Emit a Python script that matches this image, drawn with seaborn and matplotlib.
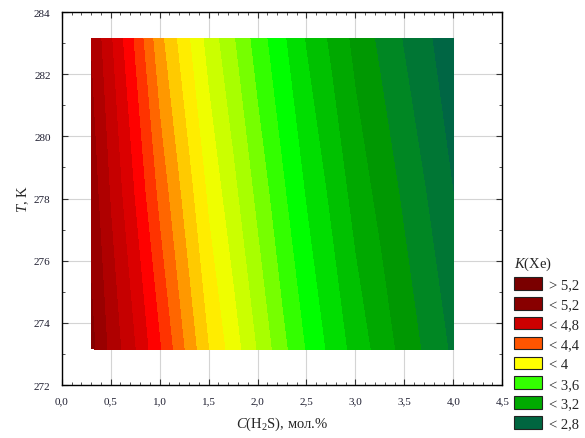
import numpy as np
import matplotlib
matplotlib.use("Agg")
import matplotlib.pyplot as plt
import seaborn as sns
from matplotlib.colors import LinearSegmentedColormap, Normalize
from matplotlib.patches import Patch
from matplotlib.ticker import MultipleLocator, FuncFormatter

# ---- data ----
c_h2s = [0.3, 0.5, 0.75, 1.0, 1.25, 1.5, 1.75, 2.0, 2.25, 2.5, 2.75, 3.0, 3.25, 3.5, 3.75, 4.0]
temps = [273.15, 278.15, 283.15]
k_273 = [5.03, 4.87, 4.70, 4.51, 4.30, 4.10, 3.95, 3.79, 3.63, 3.49, 3.37, 3.26, 3.16, 3.06, 2.97, 2.88]
k_278 = [4.96, 4.79, 4.59, 4.37, 4.17, 3.98, 3.83, 3.67, 3.52, 3.39, 3.28, 3.16, 3.07, 2.98, 2.89, 2.80]
k_283 = [4.89, 4.71, 4.48, 4.23, 4.04, 3.86, 3.71, 3.55, 3.42, 3.29, 3.18, 3.07, 2.98, 2.89, 2.81, 2.73]

legend_labels = ["> 5,2", "< 5,2", "< 4,8", "< 4,4", "< 4", "< 3,6", "< 3,2", "< 2,8"]
legend_colors = ["#7a0000", "#880000", "#cc0000", "#ff5500", "#ffff00", "#33ff00", "#00aa00", "#006640"]

x_ticks = [0.0, 0.5, 1.0, 1.5, 2.0, 2.5, 3.0, 3.5, 4.0, 4.5]
y_ticks = [272, 274, 276, 278, 280, 282, 284]

# ---- style ----
sns.set_style("ticks")
plt.rcParams["font.family"] = ["Liberation Serif", "DejaVu Serif"]
plt.rcParams["mathtext.fontset"] = "custom"
plt.rcParams["mathtext.rm"] = "Liberation Serif"
plt.rcParams["mathtext.it"] = "Liberation Serif:italic"

fig = plt.figure(figsize=(5.85, 4.39), dpi=100)
ax = fig.add_axes([0.1055, 0.1207, 0.7531, 0.8496])

X, Y = np.meshgrid(np.array(c_h2s), np.array(temps))
Z = np.array([k_273, k_278, k_283])

anchors = [(2.55, "#005a48"), (2.75, "#006644"), (2.85, "#007733"), (2.95, "#008822"),
           (3.05, "#009900"), (3.15, "#00aa00"), (3.25, "#00c000"), (3.35, "#00dd00"),
           (3.45, "#00ff00"), (3.55, "#33ff00"), (3.65, "#77ff00"), (3.75, "#aaff00"),
           (3.85, "#ccff00"), (3.95, "#eeff00"), (4.05, "#ffee00"), (4.15, "#ffcc00"),
           (4.25, "#ff9900"), (4.35, "#ff6600"), (4.45, "#ff3300"), (4.55, "#ff0000"),
           (4.65, "#dd0000"), (4.75, "#c80000"), (4.85, "#b00000"), (4.95, "#9a0000"),
           (5.05, "#860000"), (5.15, "#7e0000"), (5.35, "#780000")]
vmin, vmax = anchors[0][0], anchors[-1][0]
cmap = LinearSegmentedColormap.from_list(
    "kxe", [((v - vmin) / (vmax - vmin), c) for v, c in anchors])
norm = Normalize(vmin, vmax)

levels = np.round(np.arange(2.6, 5.41, 0.1), 2)
mids = (levels[:-1] + levels[1:]) / 2
band_colors = [cmap(norm(m)) for m in mids]

cs = ax.contourf(X, Y, Z, levels=levels, colors=band_colors, zorder=2,
                 antialiased=False)

ax.set_xlim(0, 4.5)
ax.set_ylim(272, 284)
ax.set_xticks(x_ticks)
ax.set_yticks(y_ticks)
ax.xaxis.set_minor_locator(MultipleLocator(0.1))
ax.yaxis.set_minor_locator(MultipleLocator(1))
ax.xaxis.set_major_formatter(FuncFormatter(lambda v, p: f"{v:.1f}".replace(".", ",")))
ax.tick_params(which="both", direction="in", top=True, right=True,
               labelsize=8, labelcolor="#1e1e30", color="#333333")
ax.tick_params(which="major", length=4, width=0.8, pad=8)
ax.tick_params(which="minor", length=2, width=0.6)
ax.grid(True, which="major", color="#d4d4d4", linewidth=0.8, zorder=0)
ax.set_axisbelow(True)
for s in ax.spines.values():
    s.set_color("black")
    s.set_linewidth(1.0)

ax.set_xlabel(r"$\mathit{C}$(H$_2$S), мол.%", fontsize=10.5, labelpad=7)
ax.set_ylabel(r"$\mathit{T}$, K", fontsize=10.5, labelpad=2)

handles = [Patch(facecolor=c, edgecolor="#222222", linewidth=0.8) for c in legend_colors]
leg = fig.legend(handles, legend_labels, title=r"$\mathit{K}$(Xe)",
                 loc="upper left", bbox_to_anchor=(0.867, 0.435),
                 frameon=False, fontsize=10.5, title_fontsize=10.5,
                 handlelength=1.9, handleheight=0.95, handletextpad=0.45,
                 labelspacing=0.38, borderpad=0, alignment="left")

fig.savefig("out.png", dpi=100)
